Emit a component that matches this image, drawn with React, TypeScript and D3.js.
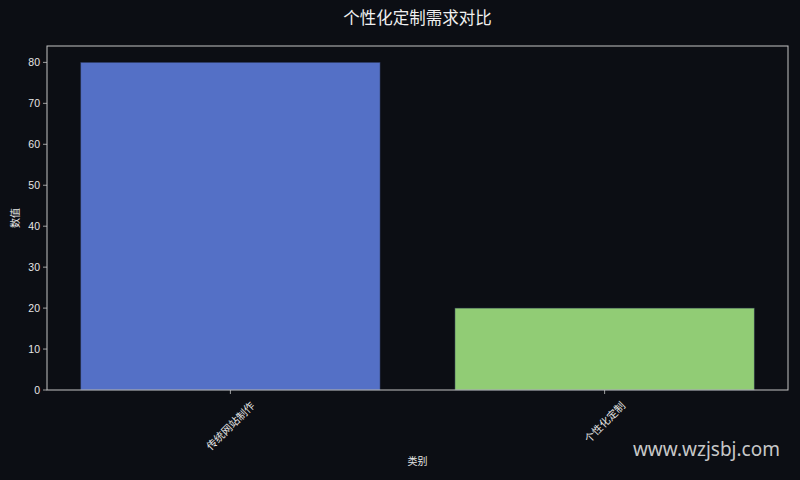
import React, { useEffect } from 'react'
import * as d3 from 'd3'

const categories = ['传统网站制作', '个性化定制']
const values = [80, 20]
const barColors = ['#5470c6', '#91cc75']
const yTicks = [0, 10, 20, 30, 40, 50, 60, 70, 80]

const title = '个性化定制需求对比'
const xLabel = '类别'
const yLabel = '数值'
const watermark = 'www.wzjsbj.com'

const W = 800
const H = 480
const BG = '#0c0e14'
const FONT = '"Liberation Sans", "Noto Sans CJK SC", sans-serif'

export default function App() {
  useEffect(() => {
    document.body.style.margin = '0'
    document.body.style.background = BG
  }, [])

  const margin = { top: 46, right: 12, bottom: 90, left: 47 }
  const plotW = W - margin.left - margin.right
  const plotH = H - margin.top - margin.bottom

  // matplotlib-like bar layout: bar width 0.8, 5% margins
  const n = categories.length
  const x = d3.scaleLinear()
    .domain([-0.4 - 0.05 * (n - 1 + 0.8), n - 1 + 0.4 + 0.05 * (n - 1 + 0.8)])
    .range([margin.left, margin.left + plotW])
  const y = d3.scaleLinear()
    .domain([0, d3.max(values)! * 1.05])
    .range([margin.top + plotH, margin.top])

  const tickFs = 10.5
  const labelFs = 10.5

  return (
    <svg width={W} height={H} style={{ position: 'absolute', left: 0, top: 0, background: BG }}>
      <rect x={0} y={0} width={W} height={H} fill={BG} />

      <text x={(x.range()[0] + x.range()[1]) / 2} y={24} textAnchor="middle"
        fill="#f0f0f0" fontSize={16.5} fontFamily={FONT}>{title}</text>

      {/* bars */}
      {values.map((v, i) => (
        <rect key={i}
          x={x(i - 0.4)} y={y(v)}
          width={x(i + 0.4) - x(i - 0.4)} height={y(0) - y(v)}
          fill={barColors[i]} stroke="rgba(40,50,80,0.6)" strokeWidth={0.8} />
      ))}

      {/* spines */}
      <rect x={x.range()[0]} y={y.range()[1]} width={x.range()[1] - x.range()[0]}
        height={y.range()[0] - y.range()[1]} fill="none" stroke="#c4c4c4" strokeWidth={1} />

      {/* y ticks */}
      {yTicks.map(t => (
        <g key={t}>
          <line x1={x.range()[0] - 4} x2={x.range()[0]} y1={y(t)} y2={y(t)} stroke="#c4c4c4" strokeWidth={0.8} />
          <text x={x.range()[0] - 7} y={y(t)} dy="0.35em" textAnchor="end"
            fill="#e6e6e6" fontSize={tickFs} fontFamily={FONT}>{t}</text>
        </g>
      ))}

      {/* x ticks */}
      {categories.map((c, i) => {
        const cx = x(i)
        const w = c.length * labelFs
        const boxH = (w + labelFs * 1.2) * Math.SQRT1_2
        const cy = y(0) + 9 + boxH / 2
        return (
          <g key={c}>
            <line x1={cx} x2={cx} y1={y(0)} y2={y(0) + 4} stroke="#c4c4c4" strokeWidth={0.8} />
            <text transform={`translate(${cx},${cy}) rotate(-45)`} textAnchor="middle"
              dominantBaseline="central" fill="#e6e6e6" fontSize={labelFs} fontFamily={FONT}>{c}</text>
          </g>
        )
      })}

      {/* axis labels */}
      <text x={(x.range()[0] + x.range()[1]) / 2} y={465} textAnchor="middle"
        fill="#e6e6e6" fontSize={10} fontFamily={FONT}>{xLabel}</text>
      <text transform={`translate(19,${(y.range()[0] + y.range()[1]) / 2}) rotate(-90)`} textAnchor="middle"
        fill="#e6e6e6" fontSize={10} fontFamily={FONT}>{yLabel}</text>

      {/* watermark */}
      <text x={780} y={456} textAnchor="end" fill="#dcdcdc" fontSize={19}
        fontFamily='"Noto Sans", "Open Sans", sans-serif' opacity={0.9}>{watermark}</text>
    </svg>
  )
}
